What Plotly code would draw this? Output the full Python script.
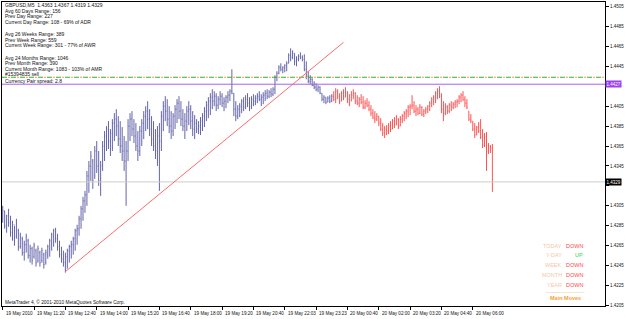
import plotly.graph_objects as go

# ---------------- data ----------------
highs = [
    1.4305, 1.4300, 1.4296, 1.4302, 1.4295, 1.4290, 1.4285, 1.4292, 1.4282, 1.4278,
    1.4274, 1.4270, 1.4277, 1.4272, 1.4266, 1.4264, 1.4268, 1.4262, 1.4265, 1.4260,
    1.4263, 1.4258, 1.4261, 1.4266, 1.4272, 1.4278, 1.4282, 1.4283, 1.4277, 1.4270,
    1.4264, 1.4260, 1.4258, 1.4262, 1.4266, 1.4270, 1.4274, 1.4282, 1.4286, 1.4295,
    1.4305, 1.4314, 1.4320, 1.4340, 1.4350, 1.4360, 1.4352, 1.4365, 1.4370, 1.4360,
    1.4350, 1.4370, 1.4380, 1.4385, 1.4390, 1.4382, 1.4392, 1.4398, 1.4402, 1.4395,
    1.4390, 1.4384, 1.4375, 1.4370, 1.4392, 1.4398, 1.4400, 1.4392, 1.4388, 1.4380,
    1.4385, 1.4392, 1.4400, 1.4405, 1.4410, 1.4402, 1.4395, 1.4390, 1.4382, 1.4385,
    1.4388, 1.4400, 1.4410, 1.4415, 1.4412, 1.4405, 1.4400, 1.4398, 1.4406, 1.4412,
    1.4415, 1.4410, 1.4402, 1.4398, 1.4405, 1.4410, 1.4406, 1.4400, 1.4396, 1.4392,
    1.4390, 1.4394, 1.4398, 1.4404, 1.4410, 1.4414, 1.4418, 1.4422, 1.4420, 1.4418,
    1.4415, 1.4420, 1.4418, 1.4414, 1.4416, 1.4420, 1.4422, 1.4442, 1.4418, 1.4410,
    1.4406, 1.4408, 1.4412, 1.4414, 1.4416, 1.4418, 1.4414, 1.4415, 1.4417, 1.4416,
    1.4418, 1.4420, 1.4417, 1.4419, 1.4421, 1.4422, 1.4421, 1.4423, 1.4424, 1.4436,
    1.4440, 1.4446, 1.4448, 1.4445, 1.4447, 1.4450, 1.4458, 1.4463, 1.4461, 1.4458,
    1.4455, 1.4457, 1.4459, 1.4456, 1.4457, 1.4450, 1.4440, 1.4436, 1.4433, 1.4430,
    1.4428, 1.4426, 1.4425, 1.4418, 1.4416, 1.4414, 1.4415, 1.4416, 1.4417, 1.4420,
    1.4423, 1.4422, 1.4418, 1.4420, 1.4422, 1.4424, 1.4420, 1.4417, 1.4420, 1.4422,
    1.4419, 1.4416, 1.4414, 1.4417, 1.4415, 1.4411, 1.4413, 1.4410, 1.4406, 1.4402,
    1.4400, 1.4398, 1.4395, 1.4393, 1.4388, 1.4385, 1.4386, 1.4388, 1.4390, 1.4392,
    1.4394, 1.4396, 1.4393, 1.4395, 1.4397, 1.4400, 1.4402, 1.4406, 1.4407, 1.4416,
    1.4410, 1.4406, 1.4404, 1.4407, 1.4405, 1.4402, 1.4404, 1.4406, 1.4410, 1.4414,
    1.4416, 1.4420, 1.4423, 1.4425, 1.4418, 1.4410, 1.4408, 1.4406, 1.4408, 1.4410,
    1.4409, 1.4411, 1.4412, 1.4416, 1.4418, 1.4420, 1.4415, 1.4412, 1.4400, 1.4397,
    1.4390, 1.4388, 1.4385, 1.4389, 1.4392, 1.4382, 1.4378, 1.4379, 1.4368, 1.4366,
    1.4367,
]
lows = [
    1.4288, 1.4282, 1.4278, 1.4284, 1.4274, 1.4270, 1.4265, 1.4272, 1.4260, 1.4262,
    1.4255, 1.4250, 1.4258, 1.4252, 1.4248, 1.4246, 1.4252, 1.4244, 1.4248, 1.4244,
    1.4248, 1.4242, 1.4246, 1.4252, 1.4254, 1.4260, 1.4264, 1.4268, 1.4260, 1.4253,
    1.4248, 1.4244, 1.4238, 1.4242, 1.4248, 1.4252, 1.4256, 1.4260, 1.4266, 1.4275,
    1.4282, 1.4290, 1.4298, 1.4305, 1.4318, 1.4330, 1.4322, 1.4332, 1.4338, 1.4325,
    1.4315, 1.4340, 1.4350, 1.4360, 1.4362, 1.4355, 1.4360, 1.4370, 1.4375, 1.4365,
    1.4358, 1.4350, 1.4340, 1.4305, 1.4350, 1.4370, 1.4375, 1.4368, 1.4360, 1.4350,
    1.4355, 1.4365, 1.4372, 1.4380, 1.4382, 1.4375, 1.4365, 1.4360, 1.4352, 1.4345,
    1.4320, 1.4360, 1.4380, 1.4390, 1.4385, 1.4378, 1.4372, 1.4375, 1.4382, 1.4388,
    1.4392, 1.4385, 1.4380, 1.4372, 1.4380, 1.4386, 1.4382, 1.4375, 1.4372, 1.4378,
    1.4377, 1.4376, 1.4380, 1.4384, 1.4390, 1.4393, 1.4396, 1.4402, 1.4405, 1.4400,
    1.4402, 1.4406, 1.4404, 1.4400, 1.4403, 1.4408, 1.4410, 1.4417, 1.4395, 1.4390,
    1.4392, 1.4394, 1.4398, 1.4400, 1.4402, 1.4404, 1.4400, 1.4402, 1.4405, 1.4406,
    1.4408, 1.4410, 1.4405, 1.4407, 1.4410, 1.4412, 1.4413, 1.4414, 1.4415, 1.4417,
    1.4430, 1.4437, 1.4440, 1.4438, 1.4439, 1.4440, 1.4448, 1.4450, 1.4452, 1.4446,
    1.4445, 1.4450, 1.4452, 1.4450, 1.4440, 1.4432, 1.4428, 1.4427, 1.4425, 1.4422,
    1.4420, 1.4419, 1.4417, 1.4410, 1.4408, 1.4407, 1.4409, 1.4408, 1.4409, 1.4410,
    1.4408, 1.4412, 1.4407, 1.4410, 1.4411, 1.4414, 1.4408, 1.4405, 1.4410, 1.4412,
    1.4407, 1.4406, 1.4404, 1.4407, 1.4402, 1.4402, 1.4404, 1.4400, 1.4395, 1.4392,
    1.4388, 1.4390, 1.4385, 1.4380, 1.4375, 1.4373, 1.4376, 1.4377, 1.4379, 1.4382,
    1.4383, 1.4386, 1.4382, 1.4385, 1.4388, 1.4390, 1.4392, 1.4394, 1.4396, 1.4402,
    1.4398, 1.4395, 1.4396, 1.4397, 1.4395, 1.4394, 1.4397, 1.4398, 1.4400, 1.4404,
    1.4406, 1.4408, 1.4412, 1.4413, 1.4398, 1.4390, 1.4396, 1.4397, 1.4398, 1.4400,
    1.4402, 1.4403, 1.4404, 1.4407, 1.4409, 1.4410, 1.4404, 1.4402, 1.4390, 1.4388,
    1.4380, 1.4373, 1.4376, 1.4378, 1.4372, 1.4363, 1.4364, 1.4340, 1.4357, 1.4358,
    1.4319,
]
opens = [
    1.4292, 1.4300, 1.4285, 1.4295, 1.4288, 1.4278, 1.4286, 1.4274, 1.4280, 1.4264,
    1.4272, 1.4258, 1.4266, 1.4270, 1.4255, 1.4262, 1.4254, 1.4260, 1.4250, 1.4258,
    1.4250, 1.4256, 1.4248, 1.4256, 1.4262, 1.4268, 1.4274, 1.4280, 1.4272, 1.4264,
    1.4256, 1.4252, 1.4248, 1.4254, 1.4260, 1.4264, 1.4266, 1.4272, 1.4280, 1.4282,
    1.4292, 1.4302, 1.4310, 1.4316, 1.4335, 1.4345, 1.4350, 1.4335, 1.4360, 1.4345,
    1.4330, 1.4345, 1.4365, 1.4375, 1.4382, 1.4370, 1.4378, 1.4388, 1.4392, 1.4385,
    1.4372, 1.4365, 1.4360, 1.4350, 1.4360, 1.4385, 1.4392, 1.4382, 1.4375, 1.4365,
    1.4360, 1.4380, 1.4388, 1.4395, 1.4400, 1.4392, 1.4382, 1.4372, 1.4365, 1.4360,
    1.4375, 1.4370, 1.4395, 1.4405, 1.4400, 1.4392, 1.4385, 1.4380, 1.4395, 1.4402,
    1.4408, 1.4400, 1.4392, 1.4385, 1.4390, 1.4400, 1.4402, 1.4390, 1.4382, 1.4388,
    1.4382, 1.4385, 1.4390, 1.4395, 1.4400, 1.4406, 1.4410, 1.4414, 1.4410, 1.4415,
    1.4406, 1.4412, 1.4415, 1.4408, 1.4410, 1.4414, 1.4416, 1.4420, 1.4418, 1.4402,
    1.4395, 1.4402, 1.4405, 1.4410, 1.4404, 1.4412, 1.4408, 1.4405, 1.4412, 1.4410,
    1.4413, 1.4415, 1.4412, 1.4414, 1.4416, 1.4418, 1.4415, 1.4419, 1.4417, 1.4422,
    1.4434, 1.4438, 1.4444, 1.4442, 1.4444, 1.4446, 1.4448, 1.4456, 1.4454, 1.4458,
    1.4450, 1.4452, 1.4455, 1.4454, 1.4452, 1.4442, 1.4435, 1.4430, 1.4432, 1.4426,
    1.4424, 1.4422, 1.4424, 1.4418, 1.4412, 1.4414, 1.4409, 1.4413, 1.4410, 1.4415,
    1.4412, 1.4420, 1.4415, 1.4410, 1.4418, 1.4414, 1.4419, 1.4412, 1.4410, 1.4416,
    1.4418, 1.4410, 1.4408, 1.4412, 1.4409, 1.4404, 1.4408, 1.4406, 1.4402, 1.4398,
    1.4394, 1.4392, 1.4395, 1.4388, 1.4382, 1.4378, 1.4382, 1.4380, 1.4385, 1.4382,
    1.4390, 1.4386, 1.4392, 1.4385, 1.4392, 1.4395, 1.4398, 1.4400, 1.4404, 1.4405,
    1.4406, 1.4400, 1.4402, 1.4398, 1.4404, 1.4397, 1.4400, 1.4402, 1.4405, 1.4408,
    1.4412, 1.4414, 1.4418, 1.4420, 1.4415, 1.4402, 1.4398, 1.4404, 1.4400, 1.4406,
    1.4404, 1.4407, 1.4409, 1.4410, 1.4414, 1.4416, 1.4412, 1.4408, 1.4400, 1.4392,
    1.4390, 1.4382, 1.4376, 1.4384, 1.4380, 1.4374, 1.4366, 1.4374, 1.4360, 1.4364,
    1.4363,
]
closes = [
    1.4300, 1.4285, 1.4295, 1.4288, 1.4278, 1.4286, 1.4270, 1.4288, 1.4264, 1.4274,
    1.4258, 1.4266, 1.4274, 1.4255, 1.4262, 1.4250, 1.4265, 1.4248, 1.4262, 1.4248,
    1.4260, 1.4246, 1.4258, 1.4264, 1.4270, 1.4276, 1.4280, 1.4272, 1.4264, 1.4256,
    1.4252, 1.4248, 1.4254, 1.4260, 1.4264, 1.4266, 1.4272, 1.4280, 1.4282, 1.4292,
    1.4302, 1.4310, 1.4316, 1.4335, 1.4345, 1.4355, 1.4330, 1.4360, 1.4345, 1.4330,
    1.4345, 1.4365, 1.4375, 1.4382, 1.4370, 1.4378, 1.4388, 1.4392, 1.4385, 1.4372,
    1.4365, 1.4360, 1.4350, 1.4360, 1.4385, 1.4392, 1.4382, 1.4375, 1.4365, 1.4360,
    1.4380, 1.4388, 1.4395, 1.4400, 1.4392, 1.4382, 1.4372, 1.4365, 1.4360, 1.4375,
    1.4370, 1.4395, 1.4405, 1.4400, 1.4392, 1.4385, 1.4380, 1.4395, 1.4402, 1.4408,
    1.4400, 1.4392, 1.4385, 1.4390, 1.4400, 1.4402, 1.4390, 1.4382, 1.4388, 1.4382,
    1.4385, 1.4390, 1.4395, 1.4400, 1.4406, 1.4410, 1.4414, 1.4410, 1.4415, 1.4406,
    1.4412, 1.4415, 1.4408, 1.4410, 1.4414, 1.4416, 1.4420, 1.4418, 1.4402, 1.4395,
    1.4402, 1.4405, 1.4410, 1.4404, 1.4412, 1.4408, 1.4405, 1.4412, 1.4410, 1.4413,
    1.4415, 1.4412, 1.4414, 1.4416, 1.4418, 1.4415, 1.4419, 1.4417, 1.4422, 1.4434,
    1.4438, 1.4444, 1.4442, 1.4444, 1.4446, 1.4448, 1.4456, 1.4454, 1.4458, 1.4450,
    1.4452, 1.4455, 1.4454, 1.4452, 1.4442, 1.4435, 1.4430, 1.4432, 1.4426, 1.4424,
    1.4422, 1.4424, 1.4418, 1.4412, 1.4414, 1.4409, 1.4413, 1.4410, 1.4415, 1.4412,
    1.4420, 1.4415, 1.4410, 1.4418, 1.4414, 1.4422, 1.4412, 1.4408, 1.4416, 1.4418,
    1.4410, 1.4408, 1.4412, 1.4409, 1.4404, 1.4408, 1.4406, 1.4402, 1.4398, 1.4394,
    1.4392, 1.4395, 1.4388, 1.4382, 1.4378, 1.4382, 1.4380, 1.4385, 1.4382, 1.4390,
    1.4386, 1.4394, 1.4385, 1.4392, 1.4395, 1.4398, 1.4400, 1.4404, 1.4405, 1.4406,
    1.4400, 1.4402, 1.4398, 1.4404, 1.4397, 1.4400, 1.4402, 1.4405, 1.4408, 1.4412,
    1.4414, 1.4418, 1.4420, 1.4415, 1.4402, 1.4398, 1.4404, 1.4400, 1.4406, 1.4404,
    1.4407, 1.4409, 1.4410, 1.4414, 1.4416, 1.4412, 1.4408, 1.4404, 1.4392, 1.4390,
    1.4382, 1.4376, 1.4384, 1.4380, 1.4374, 1.4366, 1.4374, 1.4360, 1.4364, 1.4362,
    1.4329,
]
red_start = 169  # bars from here on are drawn red

time_tick_idx = [0, 16, 32, 48, 64, 80, 96, 112, 128, 144, 160, 176, 192, 208, 224, 240]
time_tick_labels = ["19 May 2010", "19 May 11:20", "19 May 12:40", "19 May 14:00",
                    "19 May 15:20", "19 May 16:40", "19 May 18:00", "19 May 19:20",
                    "19 May 20:40", "19 May 22:03", "19 May 23:23", "20 May 00:40",
                    "20 May 02:00", "20 May 03:20", "20 May 04:40", "20 May 06:00"]
price_ticks = [1.4505, 1.4485, 1.4465, 1.4445, 1.4425, 1.4405, 1.4385, 1.4365,
               1.4345, 1.4325, 1.4305, 1.4285, 1.4265, 1.4245, 1.4225, 1.4205]
hidden_tick_labels = [1.4425, 1.4325]  # covered by the highlighted price boxes

trend_idx = [32, 174]
trend_price = [1.4239, 1.4469]
order_price = 1.4434
hline_price = 1.4427
bid_price = 1.4329

info_lines = ["GBPUSD,M5  1.4363 1.4367 1.4319 1.4329",
              "Avg 60 Days Range: 156", "Prev Day Range: 227",
              "Current Day Range: 108 - 69% of ADR", "",
              "Avg 26 Weeks Range: 389", "Prev Week Range: 559",
              "Current Week Range: 301 - 77% of AWR", "",
              "Avg 24 Months Range: 1046", "Prev Month Range: 390",
              "Current Month Range: 1083 - 103% of AMR"]
moves_labels = ["TODAY", "Y-DAY", "WEEK", "MONTH", "YEAR"]
moves_values = ["DOWN", "UP", "DOWN", "DOWN", "DOWN"]

# ---------------- layout helpers ----------------
W_PX, H_PX = 625, 319
M_L, M_R, M_T, M_B = 1, 19, 1, 13
PLOT_W = W_PX - M_L - M_R
PLOT_H = H_PX - M_T - M_B


def fx(x):
    return (x - M_L) / PLOT_W


def fy(y):
    return 1 - (y - M_T) / PLOT_H


FONT = "Liberation Sans"
SLATE = "#6464aa"
RED = "#ff5252"

fig = go.Figure()

idx = list(range(len(highs)))
segments = [(0, red_start, SLATE), (red_start, len(highs), RED)]
for a, b, col in segments:
    fig.add_trace(go.Ohlc(
        x=idx[a:b], open=opens[a:b], high=highs[a:b], low=lows[a:b], close=closes[a:b],
        increasing=dict(line=dict(color=col, width=1)),
        decreasing=dict(line=dict(color=col, width=1)),
        tickwidth=0.3, showlegend=False, hoverinfo="skip"))

x_lo, x_hi = -0.36, 307.5
# horizontal lines
fig.add_trace(go.Scatter(x=[x_lo, x_hi], y=[bid_price, bid_price], mode="lines",
                         line=dict(color="#cccccc", width=1), showlegend=False, hoverinfo="skip"))
fig.add_trace(go.Scatter(x=[x_lo, x_hi], y=[hline_price, hline_price], mode="lines",
                         line=dict(color="#a862ea", width=1), showlegend=False, hoverinfo="skip"))
fig.add_trace(go.Scatter(x=[x_lo, x_hi], y=[order_price, order_price], mode="lines",
                         line=dict(color="#35b035", width=1.2, dash="5px,4px"),
                         showlegend=False, hoverinfo="skip"))
fig.add_trace(go.Scatter(x=[x_lo, x_hi], y=[order_price, order_price], mode="lines",
                         line=dict(color="#f0a050", width=1.2, dash="0px,6px,2px,1px"),
                         showlegend=False, hoverinfo="skip"))
# trend line
fig.add_trace(go.Scatter(x=trend_idx, y=trend_price, mode="lines",
                         line=dict(color="#ff6b6b", width=1), showlegend=False, hoverinfo="skip"))

ann = []
# info text block
line_y = [4.5, 10, 15.5, 21, 27, 33.5, 39, 44.5, 51, 57, 62.5, 68]
for t, yy in zip(info_lines, line_y):
    if t:
        ann.append(dict(text=t, xref="paper", yref="paper", x=fx(2), y=fy(yy),
                        xanchor="left", yanchor="middle", showarrow=False,
                        font=dict(family=FONT, size=5, color="#111111")))
ann.append(dict(text="#15394835 sell", xref="paper", yref="paper", x=fx(2), y=fy(73.5),
                xanchor="left", yanchor="middle", showarrow=False,
                font=dict(family=FONT, size=5, color="#111111")))
ann.append(dict(text="Currency Pair spread: 2.8", xref="paper", yref="paper", x=fx(2), y=fy(80),
                xanchor="left", yanchor="middle", showarrow=False,
                font=dict(family=FONT, size=5, color="#111111")))
ann.append(dict(text="MetaTrader 4, © 2001-2010 MetaQuotes Software Corp.", xref="paper",
                yref="paper", x=fx(2), y=fy(302), xanchor="left", yanchor="middle",
                showarrow=False, font=dict(family=FONT, size=4.8, color="#111111")))

# time labels (MT4 style: text to the right of the tick)
for i, t in zip(time_tick_idx, time_tick_labels):
    ann.append(dict(text=t, xref="x", yref="paper", x=i, y=fy(313.5), xanchor="left",
                    yanchor="middle", xshift=1, showarrow=False,
                    font=dict(family=FONT, size=4.6, color="#111111")))

# highlighted price labels
ann.append(dict(text=f"{hline_price:.4f}", xref="paper", yref="y", x=fx(606), y=hline_price,
                xanchor="left", yanchor="middle", showarrow=False, bgcolor="#9b40f0",
                borderpad=0.6, font=dict(family=FONT, size=4.5, color="white")))
ann.append(dict(text=f"{bid_price:.4f}", xref="paper", yref="y", x=fx(606), y=bid_price,
                xanchor="left", yanchor="middle", showarrow=False, bgcolor="#000000",
                borderpad=0.6, font=dict(family=FONT, size=4.5, color="white")))

# Main Moves block
moves_y = [245.5, 255, 265, 275, 285]
for lab, val, yy in zip(moves_labels, moves_values, moves_y):
    ann.append(dict(text=lab, xref="paper", yref="paper", x=fx(564.5), y=fy(yy),
                    xanchor="right", yanchor="middle", showarrow=False,
                    font=dict(family=FONT, size=5.5, color="#f5c7a6")))
    ann.append(dict(text=val, xref="paper", yref="paper", x=fx(585.5), y=fy(yy),
                    xanchor="right", yanchor="middle", showarrow=False,
                    font=dict(family=FONT, size=5.5,
                              color="#45d045" if val == "UP" else "#ff4a4a")))
ann.append(dict(text="-" * 21, xref="paper", yref="paper", x=fx(566), y=fy(291.5),
                xanchor="center", yanchor="middle", showarrow=False,
                font=dict(family=FONT, size=5.5, color="#f5b060")))
ann.append(dict(text="<b>Main Moves</b>", xref="paper", yref="paper", x=fx(566), y=fy(298),
                xanchor="center", yanchor="middle", showarrow=False,
                font=dict(family=FONT, size=5.5, color="#f5a23a")))

fig.update_layout(
    width=W_PX, height=H_PX, autosize=False,
    margin=dict(l=M_L, r=M_R, t=M_T, b=M_B, pad=0),
    paper_bgcolor="white", plot_bgcolor="white",
    showlegend=False, annotations=ann,
    xaxis=dict(range=[x_lo, x_hi], rangeslider=dict(visible=False),
               tickvals=time_tick_idx, showticklabels=False, ticks="outside",
               ticklen=3, tickcolor="#000000", showgrid=False, zeroline=False,
               showline=True, linecolor="#000000", linewidth=1, mirror=True,
               fixedrange=True),
    yaxis=dict(range=[1.42045, 1.45095], side="right", tickvals=price_ticks,
               ticktext=["" if p in hidden_tick_labels else f"{p:.4f}" for p in price_ticks],
               ticks="outside",
               ticklen=3, tickcolor="#000000", showgrid=False, zeroline=False,
               showline=True, linecolor="#000000", linewidth=1, mirror=True,
               tickfont=dict(family=FONT, size=4.5, color="#111111"),
               fixedrange=True),
)

fig.write_html("out.html")
